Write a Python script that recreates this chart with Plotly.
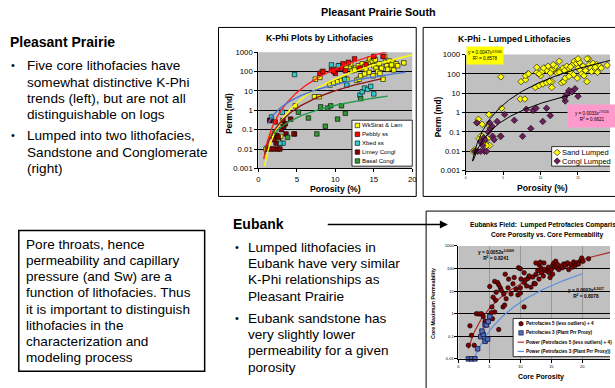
import numpy as np
import plotly.graph_objects as go

W, H = 615, 388
FONT = "Arial, 'Liberation Sans', sans-serif"

# ---------------- Pleasant Prairie South: core porosity (%) vs permeability (md)
WK_PHI = [1.0, 1.2, 1.8, 2.1, 2.6, 2.9, 3.2, 4.6, 4.8, 7.3, 7.9, 7.4, 8.0, 8.3, 9.3, 9.8,
          10.3, 10.8, 11.2, 11.5, 12.2, 12.6, 12.8, 13.1, 13.3, 13.0, 13.5, 13.8, 14.0, 14.3,
          14.5, 14.8, 15.0, 15.2, 15.0, 15.3, 15.5, 15.7, 15.8, 16.0, 16.2, 16.4, 16.5, 16.7,
          17.0, 17.2, 17.5, 17.6, 17.9, 18.1, 18.9, 14.4, 13.8, 12.5, 11.8, 11.4, 12.0, 16.8,
          17.3, 14.9]
WK_K = [0.01, 0.012, 0.045, 0.065, 0.03, 0.045, 0.2, 0.06, 1.7, 5, 5, 40, 50, 100, 20, 25,
        30, 35, 45, 40, 110, 150, 35, 40, 60, 200, 250, 180, 120, 300,
        450, 350, 500, 400, 200, 150, 100, 250, 80, 150, 40, 600, 300, 200,
        350, 150, 300, 120, 250, 200, 280, 90, 75, 120, 180, 150, 250, 130,
        220, 60]

PEB_PHI = [1.5, 2.2, 8.0, 8.4, 9.5, 10.0, 10.5, 10.8, 11.0, 11.3, 11.7, 12.5, 13.2, 14.0,
           15.0, 16.2, 10.2, 9.8]
PEB_K = [0.3, 0.25, 80, 100, 120, 80, 200, 150, 250, 110, 300, 450, 150, 230,
         600, 600, 130, 100]

# cross-bedded sandstone: samples lumped with sand, then with conglomerate
XBS_PHI = [1.7, 3.1, 3.2, 2.8, 4.7, 9.5, 10.4, 11.2, 11.5]
XBS_K = [0.45, 0.8, 0.02, 0.02, 70, 220, 200, 40, 20]
XBC_PHI = [13.2, 13.5, 13.8, 14.2, 14.6, 15.0]
XBC_K = [6, 9, 14, 12, 17, 7]

LIM_PHI = [1.2, 1.6, 2.0, 2.3, 2.5, 2.8, 2.0, 2.4, 2.6, 3.0, 3.3, 3.5, 3.2, 4.2, 4.7, 3.6, 1.5]
LIM_K = [0.01, 0.01, 0.01, 0.02, 0.01, 0.01, 0.03, 0.05, 0.04, 0.1, 0.15, 0.2, 0.3, 0.35,
         0.06, 0.06, 0.3]

BAS_PHI = [3.8, 5.2, 6.5, 7.6, 8.1, 8.7, 9.0, 9.4, 10.3, 10.8, 11.3, 13.3]
BAS_K = [0.04, 0.8, 0.4, 0.06, 1.5, 0.15, 1.3, 1.7, 0.35, 1.7, 0.7, 4]

# power-law trendlines: (coefficient, exponent, porosity from, porosity to)
WK_TREND = (0.0033, 4.1, 0.8, 20.0)
PEB_TREND = (0.0126, 4.03, 0.7, 17.0)
XB_TREND = (0.127, 2.23, 1.2, 19.1)
LIM_TREND = (0.0103, 3.0, 0.8, 16.0)
BAS_TREND = (0.014, 2.11, 2.0, 16.8)

SAND_TREND = (0.0047, 3.9066, 0.9, 20.0)
SAND_R2 = 0.8578
CONGL_TREND = (0.0033, 2.9556, 1.0, 14.0)
CONGL_R2 = 0.6621

# ---------------- Eubanks field
PF5_PHI = [1.86, 2.1, 1.6, 2.55, 2.9, 3.3, 3.7, 4.0, 4.3, 5.05, 5.85, 6.3, 6.5, 6.76, 6.9,
           6.1, 5.6, 6.0, 5.4, 5.85, 5.3, 5.5, 6.5, 7.2, 7.45, 7.7, 7.3, 8.0, 7.55, 8.1,
           8.5, 9.6, 10.0, 9.7, 10.0, 10.6, 11.0, 10.8, 11.2, 11.4, 11.7, 12.2, 12.5, 12.4,
           12.8, 13.0, 13.3, 13.4, 13.7, 13.9, 14.3, 14.5, 14.6, 14.8, 15.0, 15.2, 15.4,
           15.6, 15.7, 15.9, 16.0, 16.2, 16.5, 16.8, 17.0, 17.3, 17.6, 17.8, 18.1, 18.4,
           18.6, 18.9, 19.1, 19.4, 19.7, 19.9, 20.1, 21.0, 10.6, 10.0, 9.3, 8.8, 9.0, 10.1,
           10.6, 12.0, 13.0, 15.2, 13.8, 12.5, 13.2]
PF5_K = [0.29, 0.11, 0.04, 0.04, 1.0, 0.97, 1.0, 0.74, 0.46, 16, 27, 24, 19, 14, 11,
         9, 5.4, 3.9, 2.0, 1.2, 1.1, 0.6, 0.2, 2, 2.4, 4.6, 7.5, 14, 56, 34,
         7.5, 6.8, 8.2, 109, 98, 24, 17, 31, 36, 47, 15, 22, 55, 21,
         82, 150, 108, 66, 47, 90, 78, 115, 66, 40, 90, 140, 178,
         128, 210, 108, 150, 90, 128, 108, 160, 140, 178, 90, 150, 115,
         195, 140, 178, 160, 220, 290, 210, 270, 2.0, 14, 12, 21, 40, 34,
         65, 42, 34, 56, 178, 178, 190]

PF3_PHI = [1.6, 2.1, 2.66, 3.1, 3.6, 4.0, 3.8, 4.3, 4.5, 4.8, 5.05, 4.3, 4.7]
PF3_K = [0.01, 0.01, 0.01, 0.028, 0.096, 0.12, 0.17, 0.32, 0.32, 0.45, 0.74, 0.06, 0.075]

PF5_TREND = (0.0052, 3.6009, 1.6, 25.0)
PF5_R2 = 0.8241
PF3_TREND = (0.0002, 4.2037, 2.0, 20.0)
PF3_R2 = 0.8078

PERM_TICKS = [0.001, 0.01, 0.1, 1, 10, 100, 1000]
PERM_LABELS = ["0.001", "0.01", "0.1", "1", "10", "100", "1000"]


def trend(p):
    a, b, x0, x1 = p
    x = np.linspace(x0, x1, 120)
    return x, a * x ** b


def px_x(v):
    return v / W


def px_y(v):
    return 1 - v / H


fig = go.Figure()


def scatter(x, y, ax, symbol, color, size, line_color="black", line_w=0.6):
    fig.add_trace(go.Scatter(
        x=x, y=y, mode="markers", xaxis=ax[0], yaxis=ax[1], cliponaxis=False,
        marker=dict(symbol=symbol, color=color, size=size,
                    line=dict(color=line_color, width=line_w)),
        showlegend=False, hoverinfo="skip"))


def curve(p, ax, color, width):
    x, y = trend(p)
    fig.add_trace(go.Scatter(x=x, y=y, mode="lines", xaxis=ax[0], yaxis=ax[1],
                             line=dict(color=color, width=width),
                             showlegend=False, hoverinfo="skip"))


# chart 1: K-Phi by lithofacies
A1 = ("x", "y")
C_WK, C_PEB, C_XB, C_LIM, C_BAS = "#ffff00", "#ff0000", "#33cccc", "#800000", "#339933"
scatter(WK_PHI, WK_K, A1, "square", C_WK, 4.5)
scatter(PEB_PHI, PEB_K, A1, "square", C_PEB, 4.5)
scatter(XBS_PHI + XBC_PHI, XBS_K + XBC_K, A1, "square", C_XB, 4.5)
scatter(LIM_PHI, LIM_K, A1, "square", C_LIM, 4.5)
scatter(BAS_PHI, BAS_K, A1, "square", C_BAS, 4.5)
curve(PEB_TREND, A1, "#ff2020", 1.4)
curve(WK_TREND, A1, "#ffff00", 1.4)
curve(XB_TREND, A1, "#4a78d0", 1.4)
curve(LIM_TREND, A1, "#8b1a1a", 1.4)
curve(BAS_TREND, A1, "#1f9a4a", 1.4)

# chart 2: lumped lithofacies
A2 = ("x2", "y2")
SAND_PHI = WK_PHI + PEB_PHI + XBS_PHI
SAND_K = WK_K + PEB_K + XBS_K
CONGL_PHI = LIM_PHI + BAS_PHI + XBC_PHI
CONGL_K = LIM_K + BAS_K + XBC_K
C_SAND, C_CONGL = "#ffff00", "#6e1f5e"
scatter(SAND_PHI, SAND_K, A2, "diamond", C_SAND, 5)
scatter(CONGL_PHI, CONGL_K, A2, "diamond", C_CONGL, 5)
curve(SAND_TREND, A2, "black", 1)
curve(CONGL_TREND, A2, "black", 1)

# chart 3: Eubanks petrofacies
A3 = ("x3", "y3")
C_PF5, C_PF3 = "#800000", "#4f6fb8"
curve(PF5_TREND, A3, "#b02a2a", 1.2)
curve(PF3_TREND, A3, "#5b8ee0", 1.2)
scatter(PF5_PHI, PF5_K, A3, "circle", C_PF5, 4.5)
scatter(PF3_PHI, PF3_K, A3, "square", C_PF3, 4.5, line_color="#101040", line_w=0.8)


# ---- legend panels drawn on a full-page pixel axis (x4/y4)
def panel(x0, y0, x1, y1):
    fig.add_trace(go.Scatter(x=[x0, x1, x1, x0, x0], y=[y0, y0, y1, y1, y0], mode="lines",
                             fill="toself", fillcolor="white", xaxis="x4", yaxis="y4",
                             line=dict(color="black", width=0.8),
                             showlegend=False, hoverinfo="skip"))


def glyph(x, y, symbol, color, size, line_color="black"):
    fig.add_trace(go.Scatter(x=[x], y=[y], mode="markers", xaxis="x4", yaxis="y4",
                             marker=dict(symbol=symbol, color=color, size=size,
                                         line=dict(color=line_color, width=0.6)),
                             showlegend=False, hoverinfo="skip"))


def seg(x0, x1, y, color, width):
    fig.add_trace(go.Scatter(x=[x0, x1], y=[y, y], mode="lines", xaxis="x4", yaxis="y4",
                             line=dict(color=color, width=width),
                             showlegend=False, hoverinfo="skip"))


annots = []


def txt(x, y, s, size, bold=False, anchor="left", angle=0, **kw):
    d = dict(x=x, y=y, xref="x4", yref="y4", text=("<b>%s</b>" % s) if bold else s,
             showarrow=False, xanchor=anchor, yanchor="middle", textangle=angle, borderpad=0,
             font=dict(family=FONT, size=size, color="black"))
    d.update(kw)
    annots.append(d)


LEG1 = ["WkStrat & Lam", "Pebbly ss", "Xbed ss", "Limey Congl", "Basal Congl"]
LEG1_C = [C_WK, C_PEB, C_XB, C_LIM, C_BAS]
panel(354, 119, 415, 166)
for i, (name, c) in enumerate(zip(LEG1, LEG1_C)):
    yy = 124.3 + i * 9.1
    glyph(359.5, yy, "square", c, 4.5)
    txt(363, yy, name, 6)

panel(556, 146, 640, 166)
for i, (name, c) in enumerate(zip(["Sand Lumped", "Congl Lumped"], [C_SAND, C_CONGL])):
    yy = 152 + i * 8.8
    glyph(561.5, yy, "diamond", c, 5)
    txt(565, yy, name, 7.5)

LEG3 = ["Petrofacies 5 (less outliers) + 4", "Petrofacies 3 (Plant Prr Proxy)",
        "Power (Petrofacies 5 (less outliers) + 4)", "Power (Petrofacies 3 (Plant Prr Proxy))"]
panel(517, 322, 640, 361)
glyph(525, 327.3, "circle", C_PF5, 4.5)
glyph(525, 336.7, "square", C_PF3, 4.5, line_color="#101040")
seg(521.5, 528, 346.2, "#b02a2a", 1.2)
seg(521.5, 528, 355.7, "#5b8ee0", 1.2)
for i, name in enumerate(LEG3):
    txt(529.5, 327.3 + i * 9.45, name, 4.6, bold=True)

# ---- slide text
BODY = 13.6
LINE = 16.67
txt(381, 8.5, "Pleasant Prairie South", 10.8, bold=True, anchor="center")
txt(7.5, 38.5, "Pleasant Prairie", 14, bold=True)
BUL1 = ["Five core lithofacies have", "somewhat distinctive K-Phi",
        "trends (left), but are not all", "distinguishable on logs"]
BUL2 = ["Lumped into two lithofacies,", "Sandstone and Conglomerate", "(right)"]
for i, s in enumerate(BUL1):
    txt(24, 63.3 + i * LINE, s, BODY)
for i, s in enumerate(BUL2):
    txt(24, 135 + i * LINE, s, BODY)
txt(8.5, 62.8, "•", 11)
txt(8.5, 134.5, "•", 11)

BOX = ["Pore throats, hence", "permeability and capillary", "pressure (and Sw) are a",
       "function of lithofacies. Thus", "it is important to distinguish", "lithofacies in the",
       "characterization and", "modeling process"]
for i, s in enumerate(BOX):
    txt(23, 245.7 + i * LINE, s, BODY)

txt(232.5, 225, "Eubank", 14, bold=True)
EUB1 = ["Lumped lithofacies in", "Eubank have very similar", "K-Phi relationships as",
        "Pleasant Prairie"]
EUB2 = ["Eubank sandstone has", "very slightly lower", "permeability for a given", "porosity"]
for i, s in enumerate(EUB1):
    txt(247.5, 249 + i * LINE, s, BODY)
for i, s in enumerate(EUB2):
    txt(247.5, 321.7 + i * LINE, s, BODY)
txt(235, 248.5, "•", 11)
txt(235, 321.2, "•", 11)

# arrow from the Eubank heading to the Eubanks chart
annots.append(dict(x=451, y=225.8, xref="x4", yref="y4", ax=328, ay=225.8, axref="x4",
                   ayref="y4", text="", showarrow=True, arrowhead=2, arrowsize=1,
                   arrowwidth=1.6, arrowcolor="black"))

# chart titles and axis titles
txt(321, 35, "K-Phi Plots by Lithofacies", 8.7, bold=True, anchor="center")
txt(230, 112, "Perm (md)", 8.2, bold=True, anchor="center", angle=-90)
txt(337, 189.5, "Porosity (%)", 8.7, bold=True, anchor="center")

txt(518, 36, "K-Phi - Lumped Lithofacies", 8.7, bold=True, anchor="center")
txt(441, 115, "Perm (md)", 8.2, bold=True, anchor="center", angle=-90)
txt(547, 188.5, "Porosity (%)", 8.7, bold=True, anchor="center")


def power_label(p, r2):
    return ("y = %gx<sup>%.4f</sup><br>R<sup>2</sup> = %.4f" % (p[0], p[1], r2))


annots.append(dict(x=488.5, y=52.5, xref="x4", yref="y4", text=power_label(SAND_TREND, SAND_R2),
                   showarrow=False, bgcolor="#ffff00", width=36, height=17, borderpad=0,
                   font=dict(family=FONT, size=4.6, color="black"), align="center"))
annots.append(dict(x=597, y=115, xref="x4", yref="y4", text=power_label(CONGL_TREND, CONGL_R2),
                   showarrow=False, bgcolor="#ff99cc", width=48, height=22, borderpad=0,
                   font=dict(family=FONT, size=4.6, color="black"), align="center"))

txt(551, 226.7, "Eubanks Field:  Lumped Petrofacies Comparison", 6.6, bold=True, anchor="center")
txt(551, 236.8, "Core Porosity vs. Core Permeability", 6.6, bold=True, anchor="center")
txt(436, 307, "Core Maximum Permeability", 5.3, bold=True, anchor="center", angle=-90)
txt(545, 382, "Core Porosity", 7, bold=True, anchor="center")
annots.append(dict(x=500, y=257, xref="x4", yref="y4", text="<b>" + power_label(PF5_TREND, PF5_R2) + "</b>",
                   showarrow=False, font=dict(family=FONT, size=4.8, color="black"), align="center"))
annots.append(dict(x=591, y=296, xref="x4", yref="y4", text="<b>" + power_label(PF3_TREND, PF3_R2) + "</b>",
                   showarrow=False, font=dict(family=FONT, size=4.8, color="black"), align="center"))

# ---- frames and plot areas
shapes = []
for (x0, y0, x1, y1) in [(219, 24, 419, 197), (426, 24, 640, 197), (429, 212, 640, 400)]:
    shapes.append(dict(type="rect", xref="paper", yref="paper", x0=px_x(x0), x1=px_x(x1),
                       y0=px_y(y1), y1=px_y(y0), fillcolor="white",
                       line=dict(color="black", width=1), layer="below"))
for ax in ["", "2", "3"]:
    shapes.append(dict(type="rect", xref="x%s domain" % ax, yref="y%s domain" % ax,
                       x0=0, x1=1, y0=0, y1=1, fillcolor="#c0c0c0", line=dict(width=0),
                       layer="below"))
shapes.append(dict(type="rect", xref="paper", yref="paper", x0=px_x(17), x1=px_x(205),
                   y0=px_y(376), y1=px_y(232), line=dict(color="black", width=1.5),
                   fillcolor="rgba(0,0,0,0)", layer="below"))


def xax(domain, rng, ticks, size, grid=False, gridcolor="black"):
    return dict(domain=domain, range=rng, tickvals=ticks, ticks="outside", ticklen=3,
                tickcolor="black", tickwidth=1, showline=True, linecolor="black", linewidth=1,
                showgrid=grid, gridcolor=gridcolor, gridwidth=1, zeroline=False,
                tickfont=dict(family=FONT, size=size, color="black"))


def yax(domain, rng, size, anchor):
    return dict(domain=domain, type="log", range=rng, tickvals=PERM_TICKS, ticktext=PERM_LABELS,
                ticks="outside", ticklen=3, tickcolor="black", showline=True, linecolor="black",
                linewidth=1, showgrid=True, gridcolor="black", gridwidth=1, zeroline=False,
                anchor=anchor, tickfont=dict(family=FONT, size=size, color="black"))


fig.update_layout(
    width=W, height=H, autosize=False, margin=dict(l=0, r=0, t=0, b=0),
    paper_bgcolor="white", plot_bgcolor="rgba(0,0,0,0)", showlegend=False,
    xaxis=dict(xax([px_x(259.3), px_x(415)], [0, 20], [0, 5, 10, 15, 20], 7.8), anchor="y"),
    yaxis=yax([px_y(168.3), px_y(49.3)], [-3, 3], 7.8, "x"),
    xaxis2=dict(xax([px_x(469), 1], [0, 20 * (615 - 469) / (620.5 - 469)], [0, 5, 10, 15], 3.2), anchor="y2"),
    yaxis2=yax([px_y(170.7), px_y(51.7)], [-3, 3], 7.8, "x2"),
    xaxis3=dict(xax([px_x(461.7), 1], [0, 5 * (615 - 461.7) / 31.33], [0, 5, 10, 15, 20], 4,
                    grid=True, gridcolor="#9a9a9a"), anchor="y3"),
    yaxis3=yax([px_y(363.3), px_y(247.7)], [-2, 3], 4, "x3"),
    xaxis4=dict(domain=[0, 1], range=[0, W], visible=False, anchor="y4"),
    yaxis4=dict(domain=[0, 1], range=[H, 0], visible=False, anchor="x4"),
    shapes=shapes, annotations=annots,
)

fig.write_html("out.html")
